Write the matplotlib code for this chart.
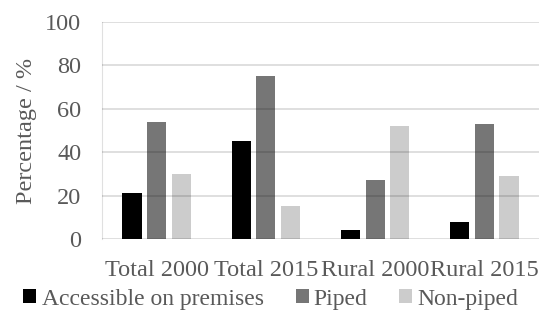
import matplotlib
matplotlib.use("Agg")
import matplotlib.pyplot as plt
import numpy as np
from matplotlib.patches import Patch

categories = ["Total 2000", "Total 2015", "Rural 2000", "Rural 2015"]
series_names = ["Accessible on premises", "Piped", "Non-piped"]
accessible = [21, 45, 4, 8]
piped = [54, 75, 27, 53]
non_piped = [30, 15, 52, 29]
colors = ["#000000", "#767676", "#cccccc"]
yticks = [0, 20, 40, 60, 80, 100]

plt.rcParams['font.family'] = ['Liberation Serif', 'DejaVu Serif']
txt = "#595959"
fs = 17.5

fig = plt.figure(figsize=(5.39, 3.18), dpi=100)
ax = fig.add_axes([102/539, 79/318, 437/539, 217/318])

x = np.arange(len(categories))
w = 0.175
step = 0.225
for i, (vals, c) in enumerate(zip([accessible, piped, non_piped], colors)):
    ax.bar(x + (i - 1) * step, vals, width=w, color=c, zorder=2)

for t in yticks:
    ax.axhline(t, color="black", alpha=0.15, lw=1.2, zorder=3)

ax.set_xlim(-0.5, len(categories) - 0.5)
ax.set_ylim(0, 100)
ax.set_yticks(yticks)
ax.set_xticks(x)
ax.set_xticklabels(categories)
for k, s in ax.spines.items():
    s.set_visible(k == 'left')
ax.spines['left'].set_color('#e0e0e0')
ax.spines['left'].set_linewidth(0.8)
ax.tick_params(axis='both', length=0, labelsize=fs, colors=txt, labelcolor=txt)
ax.tick_params(axis='x', pad=15)
ax.tick_params(axis='y', pad=15)
ax.set_ylabel("Percentage / %", fontsize=fs, color=txt, labelpad=6)

handles = [Patch(facecolor=c, edgecolor='none') for c in colors]
fig.legend(handles, series_names, loc='center', bbox_to_anchor=(271/539, 1 - 299/318),
           ncol=3, frameon=False, prop={'family': ['Liberation Serif'], 'size': 17},
           labelcolor=txt, handlelength=0.55, handleheight=0.55, handletextpad=0.22,
           columnspacing=1.35, borderpad=0)

fig.savefig("out.png", dpi=100)
